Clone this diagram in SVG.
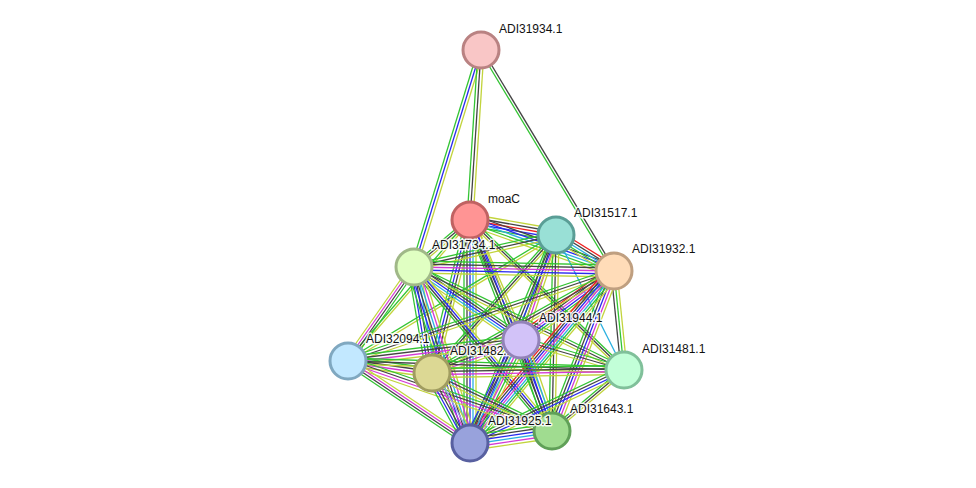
<svg xmlns="http://www.w3.org/2000/svg" width="976" height="488" viewBox="0 0 976 488">
<style>
#edges line{stroke-width:1.3;fill:none;stroke-linecap:butt}
.g{stroke:#33c433}.r{stroke:#ee2020}.b{stroke:#2a2aee}.k{stroke:#444}.m{stroke:#d43ad4}.c{stroke:#2ab0e0}.y{stroke:#c2d43c}.p{stroke:#a0a0f0}
.nd circle{stroke-width:3}
.nd text{font-family:"Liberation Sans",Arial,sans-serif;font-size:12px;fill:#111;stroke:#fff;stroke-width:3;stroke-opacity:0.85;paint-order:stroke;stroke-linejoin:round}
</style>
<rect width="976" height="488" fill="#fff"/>
<g id="edges">
<g id="e-A-T"><line class="g" x1="478" y1="50" x2="411" y2="267"/><line class="b" x1="481" y1="50" x2="414" y2="267"/><line class="y" x1="484" y1="50" x2="417" y2="267"/></g>
<g id="e-A-M"><line class="g" x1="478" y1="50" x2="467" y2="220"/><line class="k" x1="481" y1="50" x2="470" y2="220"/><line class="y" x1="484" y1="50" x2="473" y2="220"/></g>
<g id="e-A-C"><line class="g" x1="479.5" y1="50" x2="612.5" y2="271"/><line class="k" x1="482.5" y1="50" x2="615.5" y2="271"/></g>
<g id="e-M-S"><line class="y" x1="470" y1="214" x2="556" y2="229"/><line class="k" x1="470" y1="217" x2="556" y2="232"/><line class="r" x1="470" y1="220" x2="556" y2="235"/><line class="b" x1="470" y1="223" x2="556" y2="238"/><line class="g" x1="470" y1="226" x2="556" y2="241"/></g>
<g id="e-M-T"><line class="g" x1="470" y1="217" x2="414" y2="264"/><line class="k" x1="470" y1="220" x2="414" y2="267"/><line class="y" x1="470" y1="223" x2="414" y2="270"/></g>
<g id="e-M-C"><line class="k" x1="470" y1="214" x2="614" y2="265"/><line class="b" x1="470" y1="217" x2="614" y2="268"/><line class="c" x1="470" y1="220" x2="614" y2="271"/><line class="g" x1="470" y1="223" x2="614" y2="274"/><line class="y" x1="470" y1="226" x2="614" y2="277"/></g>
<g id="e-M-E"><line class="g" x1="465.5" y1="220" x2="516.5" y2="340"/><line class="k" x1="468.5" y1="220" x2="519.5" y2="340"/><line class="b" x1="471.5" y1="220" x2="522.5" y2="340"/><line class="y" x1="474.5" y1="220" x2="525.5" y2="340"/></g>
<g id="e-M-F"><line class="g" x1="468.5" y1="220" x2="346.5" y2="361"/><line class="y" x1="471.5" y1="220" x2="349.5" y2="361"/></g>
<g id="e-M-P"><line class="g" x1="465.5" y1="220" x2="427.5" y2="373"/><line class="b" x1="468.5" y1="220" x2="430.5" y2="373"/><line class="k" x1="471.5" y1="220" x2="433.5" y2="373"/><line class="y" x1="474.5" y1="220" x2="436.5" y2="373"/></g>
<g id="e-M-H"><line class="g" x1="470" y1="217" x2="624" y2="367"/><line class="k" x1="470" y1="220" x2="624" y2="370"/><line class="y" x1="470" y1="223" x2="624" y2="373"/></g>
<g id="e-M-G"><line class="g" x1="465.5" y1="220" x2="547.5" y2="431"/><line class="k" x1="468.5" y1="220" x2="550.5" y2="431"/><line class="b" x1="471.5" y1="220" x2="553.5" y2="431"/><line class="y" x1="474.5" y1="220" x2="556.5" y2="431"/></g>
<g id="e-M-N"><line class="g" x1="464" y1="220" x2="464" y2="443"/><line class="k" x1="467" y1="220" x2="467" y2="443"/><line class="b" x1="470" y1="220" x2="470" y2="443"/><line class="c" x1="473" y1="220" x2="473" y2="443"/><line class="y" x1="476" y1="220" x2="476" y2="443"/></g>
<g id="e-S-T"><line class="g" x1="556" y1="232" x2="414" y2="264"/><line class="k" x1="556" y1="235" x2="414" y2="267"/><line class="y" x1="556" y1="238" x2="414" y2="270"/></g>
<g id="e-S-C"><line class="r" x1="556" y1="229" x2="614" y2="265"/><line class="k" x1="556" y1="232" x2="614" y2="268"/><line class="c" x1="556" y1="235" x2="614" y2="271"/><line class="g" x1="556" y1="238" x2="614" y2="274"/><line class="y" x1="556" y1="241" x2="614" y2="277"/></g>
<g id="e-S-E"><line class="g" x1="551.5" y1="235" x2="516.5" y2="340"/><line class="k" x1="554.5" y1="235" x2="519.5" y2="340"/><line class="m" x1="557.5" y1="235" x2="522.5" y2="340"/><line class="y" x1="560.5" y1="235" x2="525.5" y2="340"/></g>
<g id="e-S-F"><line class="g" x1="556" y1="233.5" x2="348" y2="359.5"/><line class="y" x1="556" y1="236.5" x2="348" y2="362.5"/></g>
<g id="e-S-P"><line class="g" x1="553" y1="235" x2="429" y2="373"/><line class="k" x1="556" y1="235" x2="432" y2="373"/><line class="y" x1="559" y1="235" x2="435" y2="373"/></g>
<g id="e-S-H"><line class="c" x1="556" y1="235" x2="624" y2="370"/></g>
<g id="e-S-G"><line class="g" x1="553" y1="235" x2="549" y2="431"/><line class="k" x1="556" y1="235" x2="552" y2="431"/><line class="y" x1="559" y1="235" x2="555" y2="431"/></g>
<g id="e-S-N"><line class="g" x1="551.5" y1="235" x2="465.5" y2="443"/><line class="k" x1="554.5" y1="235" x2="468.5" y2="443"/><line class="b" x1="557.5" y1="235" x2="471.5" y2="443"/><line class="y" x1="560.5" y1="235" x2="474.5" y2="443"/></g>
<g id="e-T-C"><line class="g" x1="414" y1="261" x2="614" y2="265"/><line class="k" x1="414" y1="264" x2="614" y2="268"/><line class="m" x1="414" y1="267" x2="614" y2="271"/><line class="b" x1="414" y1="270" x2="614" y2="274"/><line class="y" x1="414" y1="273" x2="614" y2="277"/></g>
<g id="e-T-E"><line class="g" x1="414" y1="261" x2="521" y2="334"/><line class="k" x1="414" y1="264" x2="521" y2="337"/><line class="b" x1="414" y1="267" x2="521" y2="340"/><line class="c" x1="414" y1="270" x2="521" y2="343"/><line class="y" x1="414" y1="273" x2="521" y2="346"/></g>
<g id="e-T-F"><line class="y" x1="409.5" y1="267" x2="343.5" y2="361"/><line class="m" x1="412.5" y1="267" x2="346.5" y2="361"/><line class="k" x1="415.5" y1="267" x2="349.5" y2="361"/><line class="g" x1="418.5" y1="267" x2="352.5" y2="361"/></g>
<g id="e-T-P"><line class="g" x1="408" y1="267" x2="426" y2="373"/><line class="b" x1="411" y1="267" x2="429" y2="373"/><line class="k" x1="414" y1="267" x2="432" y2="373"/><line class="c" x1="417" y1="267" x2="435" y2="373"/><line class="y" x1="420" y1="267" x2="438" y2="373"/></g>
<g id="e-T-H"><line class="g" x1="414" y1="264" x2="624" y2="367"/><line class="k" x1="414" y1="267" x2="624" y2="370"/><line class="y" x1="414" y1="270" x2="624" y2="373"/></g>
<g id="e-T-G"><line class="g" x1="409.5" y1="267" x2="547.5" y2="431"/><line class="k" x1="412.5" y1="267" x2="550.5" y2="431"/><line class="b" x1="415.5" y1="267" x2="553.5" y2="431"/><line class="y" x1="418.5" y1="267" x2="556.5" y2="431"/></g>
<g id="e-T-N"><line class="g" x1="406.5" y1="267" x2="462.5" y2="443"/><line class="b" x1="409.5" y1="267" x2="465.5" y2="443"/><line class="k" x1="412.5" y1="267" x2="468.5" y2="443"/><line class="c" x1="415.5" y1="267" x2="471.5" y2="443"/><line class="m" x1="418.5" y1="267" x2="474.5" y2="443"/><line class="y" x1="421.5" y1="267" x2="477.5" y2="443"/></g>
<g id="e-C-E"><line class="r" x1="614" y1="263.5" x2="521" y2="332.5"/><line class="k" x1="614" y1="266.5" x2="521" y2="335.5"/><line class="m" x1="614" y1="269.5" x2="521" y2="338.5"/><line class="b" x1="614" y1="272.5" x2="521" y2="341.5"/><line class="g" x1="614" y1="275.5" x2="521" y2="344.5"/><line class="y" x1="614" y1="278.5" x2="521" y2="347.5"/></g>
<g id="e-C-F"><line class="g" x1="614" y1="268" x2="348" y2="358"/><line class="k" x1="614" y1="271" x2="348" y2="361"/><line class="y" x1="614" y1="274" x2="348" y2="364"/></g>
<g id="e-C-P"><line class="g" x1="614" y1="268" x2="432" y2="370"/><line class="k" x1="614" y1="271" x2="432" y2="373"/><line class="y" x1="614" y1="274" x2="432" y2="376"/></g>
<g id="e-C-H"><line class="k" x1="611" y1="271" x2="621" y2="370"/><line class="g" x1="614" y1="271" x2="624" y2="370"/><line class="y" x1="617" y1="271" x2="627" y2="370"/></g>
<g id="e-C-G"><line class="g" x1="608" y1="271" x2="546" y2="431"/><line class="k" x1="611" y1="271" x2="549" y2="431"/><line class="b" x1="614" y1="271" x2="552" y2="431"/><line class="m" x1="617" y1="271" x2="555" y2="431"/><line class="y" x1="620" y1="271" x2="558" y2="431"/></g>
<g id="e-C-N"><line class="r" x1="605" y1="271" x2="461" y2="443"/><line class="k" x1="608" y1="271" x2="464" y2="443"/><line class="b" x1="611" y1="271" x2="467" y2="443"/><line class="m" x1="614" y1="271" x2="470" y2="443"/><line class="c" x1="617" y1="271" x2="473" y2="443"/><line class="g" x1="620" y1="271" x2="476" y2="443"/><line class="y" x1="623" y1="271" x2="479" y2="443"/></g>
<g id="e-E-F"><line class="g" x1="521" y1="335.5" x2="348" y2="356.5"/><line class="k" x1="521" y1="338.5" x2="348" y2="359.5"/><line class="m" x1="521" y1="341.5" x2="348" y2="362.5"/><line class="y" x1="521" y1="344.5" x2="348" y2="365.5"/></g>
<g id="e-E-P"><line class="g" x1="521" y1="335.5" x2="432" y2="368.5"/><line class="k" x1="521" y1="338.5" x2="432" y2="371.5"/><line class="m" x1="521" y1="341.5" x2="432" y2="374.5"/><line class="y" x1="521" y1="344.5" x2="432" y2="377.5"/></g>
<g id="e-E-H"><line class="g" x1="521" y1="337" x2="624" y2="367"/><line class="k" x1="521" y1="340" x2="624" y2="370"/><line class="y" x1="521" y1="343" x2="624" y2="373"/></g>
<g id="e-E-G"><line class="g" x1="515" y1="340" x2="546" y2="431"/><line class="k" x1="518" y1="340" x2="549" y2="431"/><line class="b" x1="521" y1="340" x2="552" y2="431"/><line class="c" x1="524" y1="340" x2="555" y2="431"/><line class="y" x1="527" y1="340" x2="558" y2="431"/></g>
<g id="e-E-N"><line class="b" x1="513.5" y1="340" x2="462.5" y2="443"/><line class="k" x1="516.5" y1="340" x2="465.5" y2="443"/><line class="c" x1="519.5" y1="340" x2="468.5" y2="443"/><line class="m" x1="522.5" y1="340" x2="471.5" y2="443"/><line class="g" x1="525.5" y1="340" x2="474.5" y2="443"/><line class="y" x1="528.5" y1="340" x2="477.5" y2="443"/></g>
<g id="e-F-P"><line class="g" x1="348" y1="356.5" x2="432" y2="368.5"/><line class="k" x1="348" y1="359.5" x2="432" y2="371.5"/><line class="m" x1="348" y1="362.5" x2="432" y2="374.5"/><line class="y" x1="348" y1="365.5" x2="432" y2="377.5"/></g>
<g id="e-F-H"><line class="g" x1="348" y1="358" x2="624" y2="367"/><line class="k" x1="348" y1="361" x2="624" y2="370"/><line class="y" x1="348" y1="364" x2="624" y2="373"/></g>
<g id="e-F-G"><line class="g" x1="348" y1="356.5" x2="552" y2="426.5"/><line class="k" x1="348" y1="359.5" x2="552" y2="429.5"/><line class="m" x1="348" y1="362.5" x2="552" y2="432.5"/><line class="y" x1="348" y1="365.5" x2="552" y2="435.5"/></g>
<g id="e-F-N"><line class="y" x1="348" y1="356.5" x2="470" y2="438.5"/><line class="m" x1="348" y1="359.5" x2="470" y2="441.5"/><line class="k" x1="348" y1="362.5" x2="470" y2="444.5"/><line class="g" x1="348" y1="365.5" x2="470" y2="447.5"/></g>
<g id="e-P-H"><line class="g" x1="432" y1="368.5" x2="624" y2="365.5"/><line class="k" x1="432" y1="371.5" x2="624" y2="368.5"/><line class="m" x1="432" y1="374.5" x2="624" y2="371.5"/><line class="y" x1="432" y1="377.5" x2="624" y2="374.5"/></g>
<g id="e-P-G"><line class="g" x1="432" y1="370" x2="552" y2="428"/><line class="k" x1="432" y1="373" x2="552" y2="431"/><line class="y" x1="432" y1="376" x2="552" y2="434"/></g>
<g id="e-P-N"><line class="g" x1="424.5" y1="373" x2="462.5" y2="443"/><line class="b" x1="427.5" y1="373" x2="465.5" y2="443"/><line class="k" x1="430.5" y1="373" x2="468.5" y2="443"/><line class="m" x1="433.5" y1="373" x2="471.5" y2="443"/><line class="p" x1="436.5" y1="373" x2="474.5" y2="443"/><line class="y" x1="439.5" y1="373" x2="477.5" y2="443"/></g>
<g id="e-H-G"><line class="g" x1="624" y1="367" x2="552" y2="428"/><line class="k" x1="624" y1="370" x2="552" y2="431"/><line class="y" x1="624" y1="373" x2="552" y2="434"/></g>
<g id="e-H-N"><line class="g" x1="624" y1="365.5" x2="470" y2="438.5"/><line class="k" x1="624" y1="368.5" x2="470" y2="441.5"/><line class="b" x1="624" y1="371.5" x2="470" y2="444.5"/><line class="y" x1="624" y1="374.5" x2="470" y2="447.5"/></g>
<g id="e-G-N"><line class="g" x1="552" y1="423.5" x2="470" y2="435.5"/><line class="k" x1="552" y1="426.5" x2="470" y2="438.5"/><line class="b" x1="552" y1="429.5" x2="470" y2="441.5"/><line class="c" x1="552" y1="432.5" x2="470" y2="444.5"/><line class="m" x1="552" y1="435.5" x2="470" y2="447.5"/><line class="y" x1="552" y1="438.5" x2="470" y2="450.5"/></g>
</g>
<g id="node-ADI31934.1" class="nd"><circle cx="481" cy="50" r="18" fill="#f9c6c6" stroke="#b98282"/><text x="499" y="32.5">ADI31934.1</text></g>
<g id="node-moaC" class="nd"><circle cx="470" cy="220" r="18" fill="#ff9494" stroke="#c06262"/><text x="488" y="203">moaC</text></g>
<g id="node-ADI31517.1" class="nd"><circle cx="556" cy="235" r="18" fill="#99e0d6" stroke="#5a9e96"/><text x="574" y="217">ADI31517.1</text></g>
<g id="node-ADI31734.1" class="nd"><circle cx="414" cy="267" r="18" fill="#e0ffc2" stroke="#a0b888"/><text x="432" y="249">ADI31734.1</text></g>
<g id="node-ADI31932.1" class="nd"><circle cx="614" cy="271" r="18" fill="#ffdcb8" stroke="#bf9f80"/><text x="632" y="253">ADI31932.1</text></g>
<g id="node-ADI32094.1" class="nd"><circle cx="348" cy="361" r="18" fill="#c2e8ff" stroke="#80a8c0"/><text x="366" y="343">ADI32094.1</text></g>
<g id="node-ADI31482.1" class="nd"><circle cx="432" cy="373" r="18" fill="#dcd894" stroke="#a09c60"/><text x="450" y="355">ADI31482.1</text></g>
<g id="node-ADI31944.1" class="nd"><circle cx="521" cy="340" r="18" fill="#d2c2f8" stroke="#9282b8"/><text x="539" y="322">ADI31944.1</text></g>
<g id="node-ADI31481.1" class="nd"><circle cx="624" cy="370" r="18" fill="#c2ffd8" stroke="#80c09a"/><text x="642" y="353">ADI31481.1</text></g>
<g id="node-ADI31643.1" class="nd"><circle cx="552" cy="431" r="18" fill="#a0dc90" stroke="#60a058"/><text x="570" y="413">ADI31643.1</text></g>
<g id="node-ADI31925.1" class="nd"><circle cx="470" cy="443" r="18" fill="#98a2dc" stroke="#5860a0"/><text x="488" y="425">ADI31925.1</text></g>
</svg>
